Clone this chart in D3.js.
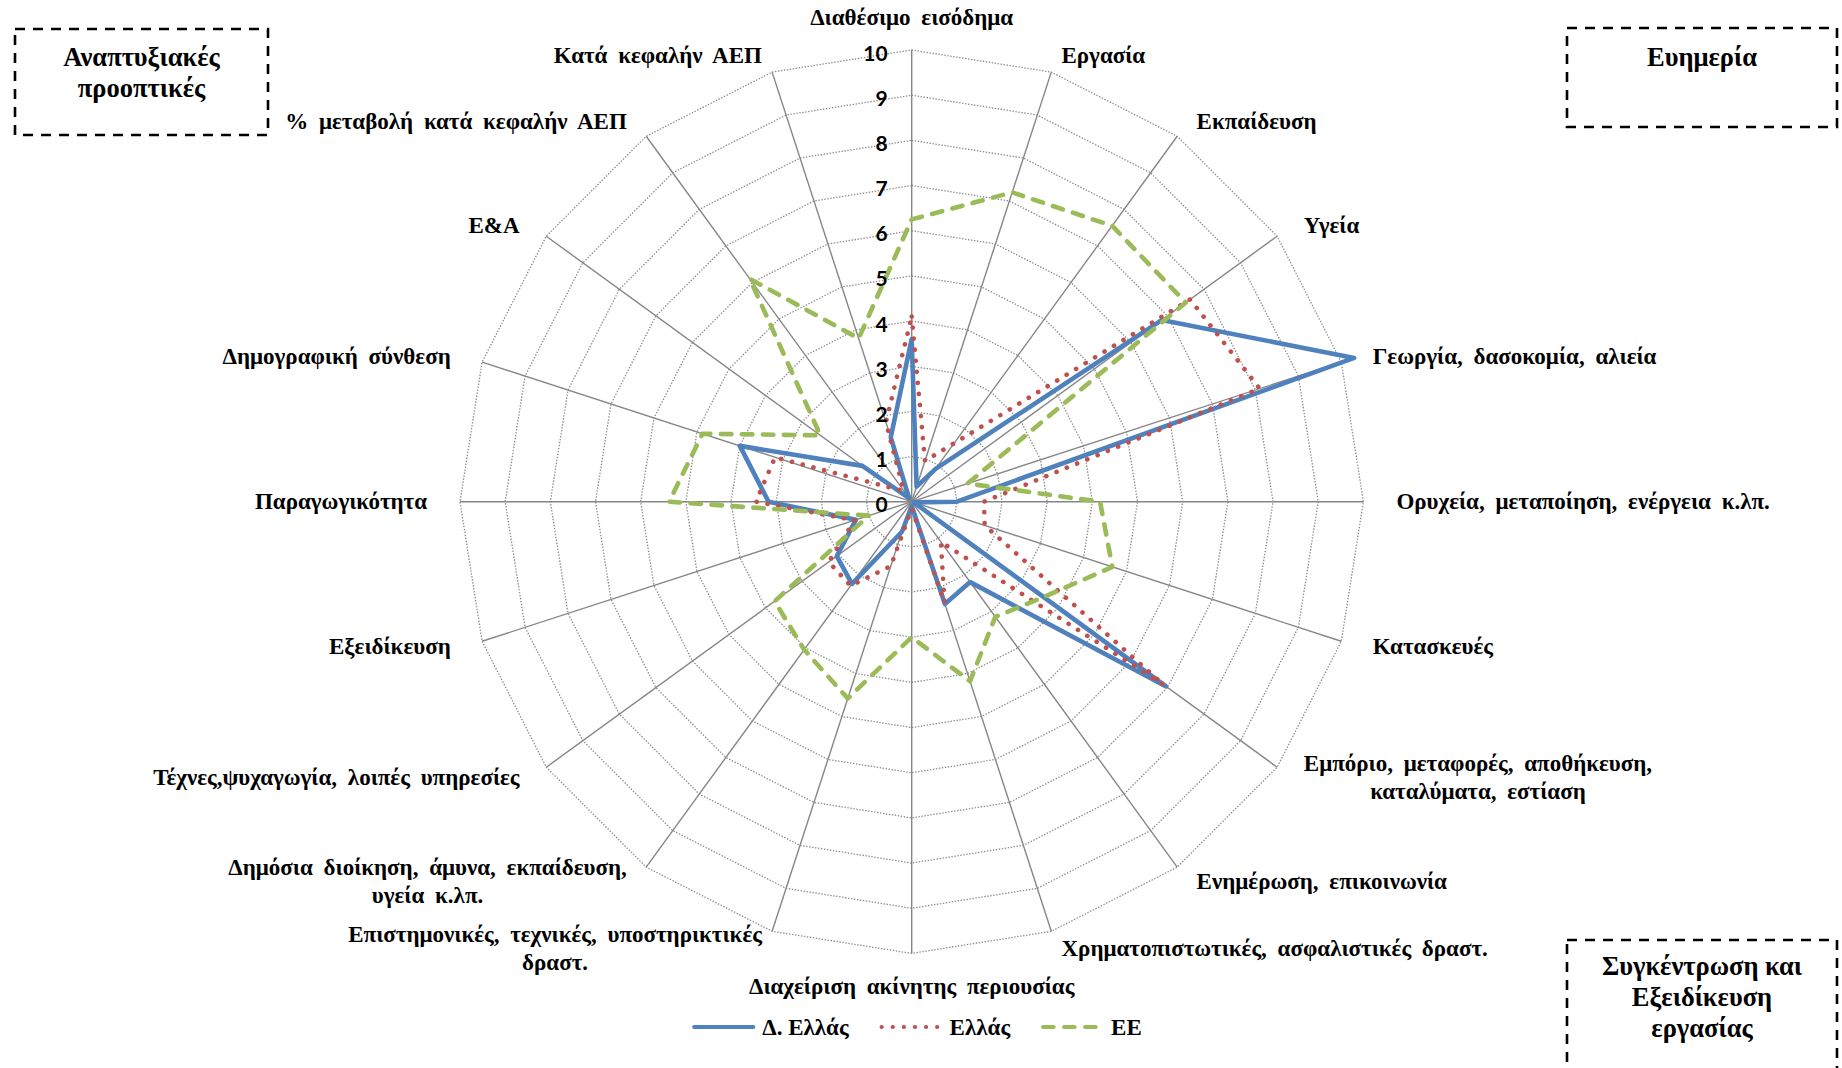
<!DOCTYPE html>
<html><head><meta charset="utf-8">
<script src="https://cdn.jsdelivr.net/npm/d3@7/dist/d3.min.js"></script>
<style>
body{margin:0;background:#fff}
svg{display:block}
</style>
</head><body>
<svg id="chart" width="1842" height="1068"></svg>
<script>
// ---------- data ----------
const categories = [
  "Διαθέσιμο εισόδημα",
  "Εργασία",
  "Εκπαίδευση",
  "Υγεία",
  "Γεωργία, δασοκομία, αλιεία",
  "Ορυχεία, μεταποίηση, ενέργεια κ.λπ.",
  "Κατασκευές",
  "Εμπόριο, μεταφορές, αποθήκευση,|καταλύματα, εστίαση",
  "Ενημέρωση, επικοινωνία",
  "Χρηματοπιστωτικές, ασφαλιστικές δραστ.",
  "Διαχείριση ακίνητης περιουσίας",
  "Επιστημονικές, τεχνικές, υποστηρικτικές|δραστ.",
  "Δημόσια διοίκηση, άμυνα, εκπαίδευση,|υγεία κ.λπ.",
  "Τέχνες,ψυχαγωγία, λοιπές υπηρεσίες",
  "Εξειδίκευση",
  "Παραγωγικότητα",
  "Δημογραφική σύνθεση",
  "Ε&Α",
  "% μεταβολή κατά κεφαλήν ΑΕΠ",
  "Κατά κεφαλήν ΑΕΠ"
];
const seriesNames = ["Δ. Ελλάς", "Ελλάς", "ΕΕ"];
const dEllas = [3.6, 0.35, 0.9, 6.84, 10.3, 1.0, 0.05, 6.95, 2.2, 2.38, 0.1, 0.7, 2.25, 2.05, 1.3, 3.17, 4.0, 1.35, 0.1, 1.5];
const ellas  = [4.1, 0.95, 1.6, 7.62, 8.1, 1.6, 1.7, 6.9, 1.1, 2.35, 0.15, 1.5, 2.3, 2.27, 1.33, 3.45, 3.18, 0.5, 0.3, 1.85];
const ee     = [6.25, 7.2, 7.55, 7.5, 1.3, 4.17, 4.67, 3.6, 3.15, 4.18, 3.0, 4.58, 4.05, 3.75, 1.0, 5.37, 4.87, 2.5, 6.1, 3.8];
const tickValues = [0, 1, 2, 3, 4, 5, 6, 7, 8, 9, 10];
const boxTitles = [
  ["Αναπτυξιακές", "προοπτικές"],
  ["Ευημερία"],
  ["Συγκέντρωση και", "Εξειδίκευση", "εργασίας"]
];

// ---------- styles ----------
const colors = ["#4F81BD", "#C0504D", "#9BBB59"];
const dashes = [null, "0.1 11", "10.5 10.5"];
const serif = "'Liberation Serif','Times New Roman',serif";
const sans = "Lato,'Open Sans',sans-serif";

const svg = d3.select("#chart");
const cx = 911.7, cy = 501.7, R = 451.7;
const n = categories.length;

const rScale = d3.scaleLinear().domain([0, 10]).range([0, R]);
const aScale = d3.scaleLinear().domain([0, n]).range([0, 2 * Math.PI]);
const idx = d3.range(n);

const g = svg.append("g").attr("transform", `translate(${cx},${cy})`);

// grid polygons
const ringLine = d3.lineRadial().angle(i => aScale(i)).curve(d3.curveLinearClosed);
g.append("g").selectAll("path").data(tickValues.filter(v => v > 0)).join("path")
  .attr("d", v => ringLine.radius(() => rScale(v))(idx))
  .attr("fill", "none").attr("stroke", "#8a8a8a").attr("stroke-width", 1.3)
  .attr("stroke-dasharray", "1.4 1.6");

// spokes
g.append("g").selectAll("line").data(idx).join("line")
  .attr("x1", 0).attr("y1", 0)
  .attr("x2", i => rScale(10) * Math.sin(aScale(i)))
  .attr("y2", i => -rScale(10) * Math.cos(aScale(i)))
  .attr("stroke", "#868686").attr("stroke-width", 1.4);

// series
const seriesData = [dEllas, ellas, ee];
const line = d3.lineRadial()
  .angle((d, i) => aScale(i))
  .radius(d => rScale(d))
  .curve(d3.curveLinearClosed);
seriesData.forEach((s, k) => {
  g.append("path").attr("d", line(s))
    .attr("fill", "none").attr("stroke", colors[k])
    .attr("stroke-width", 4.6)
    .attr("stroke-linejoin", "round").attr("stroke-linecap", "round")
    .attr("stroke-dasharray", dashes[k]);
});

// tick labels
g.append("g").selectAll("text").data(tickValues).join("text")
  .attr("x", -24).attr("y", v => -rScale(v) + 3)
  .attr("dy", "0.36em")
  .attr("text-anchor", "end")
  .attr("font-family", sans).attr("font-weight", "bold").attr("font-size", 21)
  .attr("fill", "#000").text(v => v);

// category labels
const labG = svg.append("g").attr("font-family", serif).attr("font-weight", "bold")
  .attr("font-size", 23).attr("word-spacing", 5).attr("fill", "#000");
categories.forEach((c, i) => {
  const a = aScale(i), s = Math.sin(a), co = Math.cos(a);
  const ex = cx + rScale(10) * s, ey = cy - rScale(10) * co;
  const side = Math.abs(s) < 0.05 ? 0 : Math.sign(s);
  const ax = ex + 33 * s;
  const ay = ey - (side === 0 ? 33 : 18) * co;
  const lines = c.split("|");
  const lh = 28;
  const t = labG.append("text").attr("text-anchor", "middle");
  lines.forEach((ln, k) => {
    t.append("tspan").attr("x", 0)
      .attr("y", ay + (k - (lines.length - 1) / 2) * lh)
      .attr("dy", "0.33em").text(ln);
  });
  let w = 0;
  t.selectAll("tspan").each(function () { w = Math.max(w, this.getComputedTextLength()); });
  const xc = side === 0 ? ax : ax + side * w / 2;
  t.selectAll("tspan").attr("x", xc);
});

// legend
const legY = 1027;
const legG = svg.append("g").attr("font-family", serif).attr("font-weight", "bold").attr("font-size", 23);
let lx = 0;
const items = [];
seriesNames.forEach((nm, k) => {
  const it = legG.append("g");
  it.append("line").attr("x1", 2).attr("x2", 61).attr("y1", 0).attr("y2", 0)
    .attr("stroke", colors[k]).attr("stroke-width", 4.2)
    .attr("stroke-linecap", "round").attr("stroke-dasharray", dashes[k]);
  const tx = it.append("text").attr("x", 70).attr("dy", "0.33em").text(nm);
  const w = tx.node().getComputedTextLength();
  items.push({ it, x: lx });
  lx += 70 + w + 31;
});
const legW = lx - 31;
const legX0 = 917 - legW / 2;
items.forEach(o => o.it.attr("transform", `translate(${legX0 + o.x},${legY})`));

// dashed boxes
const boxes = [
  { x: 15, y: 29, w: 253, h: 106, cy: 73 },
  { x: 1567, y: 28, w: 270, h: 99, cy: 57 },
  { x: 1567, y: 940, w: 270, h: 160, cy: 997 }
];
boxes.forEach((b, k) => {
  svg.append("rect").attr("x", b.x).attr("y", b.y).attr("width", b.w).attr("height", b.h)
    .attr("fill", "none").attr("stroke", "#000").attr("stroke-width", 2.6)
    .attr("stroke-dasharray", "10 8");
  const t = svg.append("text").attr("font-family", serif).attr("font-weight", "bold")
    .attr("font-size", 26.5).attr("text-anchor", "middle");
  const L = boxTitles[k];
  L.forEach((ln, j) => {
    t.append("tspan").attr("x", b.x + b.w / 2)
      .attr("y", b.cy + (j - (L.length - 1) / 2) * 31).attr("dy", "0.33em").text(ln);
  });
});
</script>
</body></html>
